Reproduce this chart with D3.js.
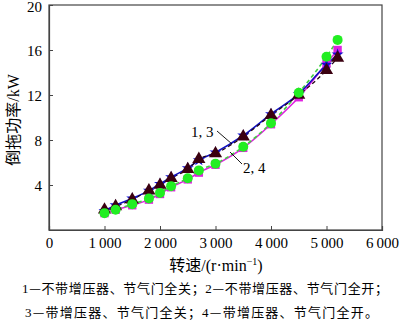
<!DOCTYPE html>
<html><head><meta charset="utf-8">
<script src="https://cdn.jsdelivr.net/npm/d3@7"></script>
<style>
body{margin:0;background:#fff;}
text{font-family:"Liberation Serif","Noto Sans CJK SC",serif;fill:#000;}
</style></head>
<body><svg id="c" width="400" height="323"></svg>
<script>
const rpm = [1000,1200,1500,1800,2000,2200,2500,2700,3000,3500,4000,4500,5000,5200];
const s1 = [1.7,2.2,2.8,3.5,4.1,4.7,5.5,6.2,6.9,8.4,10.3,12.1,14.7,15.6];
const s2 = [1.5,1.8,2.2,2.7,3.2,3.8,4.5,5.1,5.8,7.3,9.4,11.8,14.8,16.0];
const s3 = [1.8,2.1,2.7,3.5,4.0,4.6,5.4,6.3,6.8,8.3,10.2,12.0,14.2,15.3];
const s4 = [1.5,1.8,2.3,2.8,3.3,3.9,4.6,5.3,5.9,7.4,9.5,12.2,15.4,16.9];
const xTicks = [0,1000,2000,3000,4000,5000,6000];
const yTicks = [4,8,12,16,20];
const xTitle = "转速/(r·min";
const yTitle = "倒拖功率/kW";
const captions = [
  [["1",0],["—",1],["不带增压器、节气门全关；",0],["2",0],["—",1],["不带增压器、节气门全开；",0]],
  [["3",0],["—",1],["带增压器、节气门全关；",0],["4",0],["—",1],["带增压器、节气门全开。",0]]
];

const svg = d3.select("#c");
const L=49,R=382,T=5,B=230;
const x = d3.scaleLinear().domain([0,6000]).range([L,R]);
const y = d3.scaleLinear().domain([0,20]).range([B,T]);
const fmt = d => d===0?"0":d3.format(",")(d).replace(",","\u2009");

svg.append("rect").attr("x",L).attr("y",T).attr("width",R-L).attr("height",B-T)
  .attr("fill","none").attr("stroke","#444").attr("stroke-width",1.2);

const gx = svg.append("g").attr("transform",`translate(0,${B})`)
  .call(d3.axisBottom(x).tickValues(xTicks).tickSize(-4).tickPadding(7).tickFormat(fmt));
const gy = svg.append("g").attr("transform",`translate(${L},0)`)
  .call(d3.axisLeft(y).tickValues(yTicks).tickSize(-4).tickPadding(7));
[gx,gy].forEach(g=>{
  g.select(".domain").attr("stroke","#444").attr("stroke-width",1.2);
  g.selectAll(".tick line").attr("stroke","#444");
  g.selectAll("text").attr("font-size",15).attr("font-family","Liberation Serif");
});
gx.selectAll(".tick text").attr("dy","0.71em");
gy.selectAll(".tick text").attr("dy",d=>d===20?"0.45em":"0.36em");

const line = d3.line().x((d,i)=>x(rpm[i])).y(d=>y(d)).curve(d3.curveMonotoneX);
svg.append("path").attr("d",line(s2)).attr("fill","none").attr("stroke","#e020e0").attr("stroke-width",1.6);
svg.append("path").attr("d",line(s4)).attr("fill","none").attr("stroke","#40d040").attr("stroke-width",1.6).attr("stroke-dasharray","4,3");
svg.append("path").attr("d",line(s1)).attr("fill","none").attr("stroke","#1010c0").attr("stroke-width",1.6);
svg.append("path").attr("d",line(s3)).attr("fill","none").attr("stroke","#200010").attr("stroke-width",1.2).attr("stroke-dasharray","4,3");

svg.append("g").selectAll("path").data(s2).join("path")
  .attr("d",d3.symbol(d3.symbolSquare,70)).attr("transform",(d,i)=>`translate(${x(rpm[i])},${y(d)})`).attr("fill","#e020e0");
svg.append("g").selectAll("path").data(s1).join("path")
  .attr("d",d3.symbol(d3.symbolStar,45)).attr("transform",(d,i)=>`translate(${x(rpm[i])},${y(d)})`).attr("fill","#1010d0");
svg.append("g").selectAll("path").data(s3).join("path")
  .attr("d",d3.symbol(d3.symbolTriangle,75)).attr("transform",(d,i)=>`translate(${x(rpm[i])},${y(d)})`).attr("fill","#3a0010");
svg.append("g").selectAll("circle").data(s4).join("circle")
  .attr("cx",(d,i)=>x(rpm[i])).attr("cy",d=>y(d)).attr("r",5).attr("fill","#22ee22");

svg.append("text").attr("x",191).attr("y",137).attr("font-size",15).text("1, 3");
svg.append("line").attr("x1",217).attr("y1",131).attr("x2",232).attr("y2",144).attr("stroke","#000").attr("stroke-width",0.9);
svg.append("text").attr("x",243).attr("y",173).attr("font-size",15).text("2, 4");
svg.append("line").attr("x1",230).attr("y1",152).attr("x2",242).attr("y2",164).attr("stroke","#000").attr("stroke-width",0.9);

const xt = svg.append("text").attr("x",216).attr("y",271).attr("text-anchor","middle").attr("font-size",16);
xt.append("tspan").text(xTitle);
xt.append("tspan").attr("font-size",10).attr("dy",-6).text("−1");
xt.append("tspan").attr("dy",6).text(")");
svg.append("text").attr("transform","translate(19,120) rotate(-90)").attr("text-anchor","middle").attr("font-size",16).text(yTitle);

const capY=[293,317], capX=[[22,388],[25,378]];
captions.forEach((parts,k)=>{
  const t = svg.append("text").attr("x",capX[k][0]).attr("y",capY[k]).attr("font-size",13)
    .attr("textLength",capX[k][1]-capX[k][0]).attr("lengthAdjust","spacing");
  parts.forEach(([s,cjk])=>{
    const ts=t.append("tspan").text(s);
    if(cjk) ts.attr("font-family","Noto Sans CJK SC");
  });
});
</script></body></html>
